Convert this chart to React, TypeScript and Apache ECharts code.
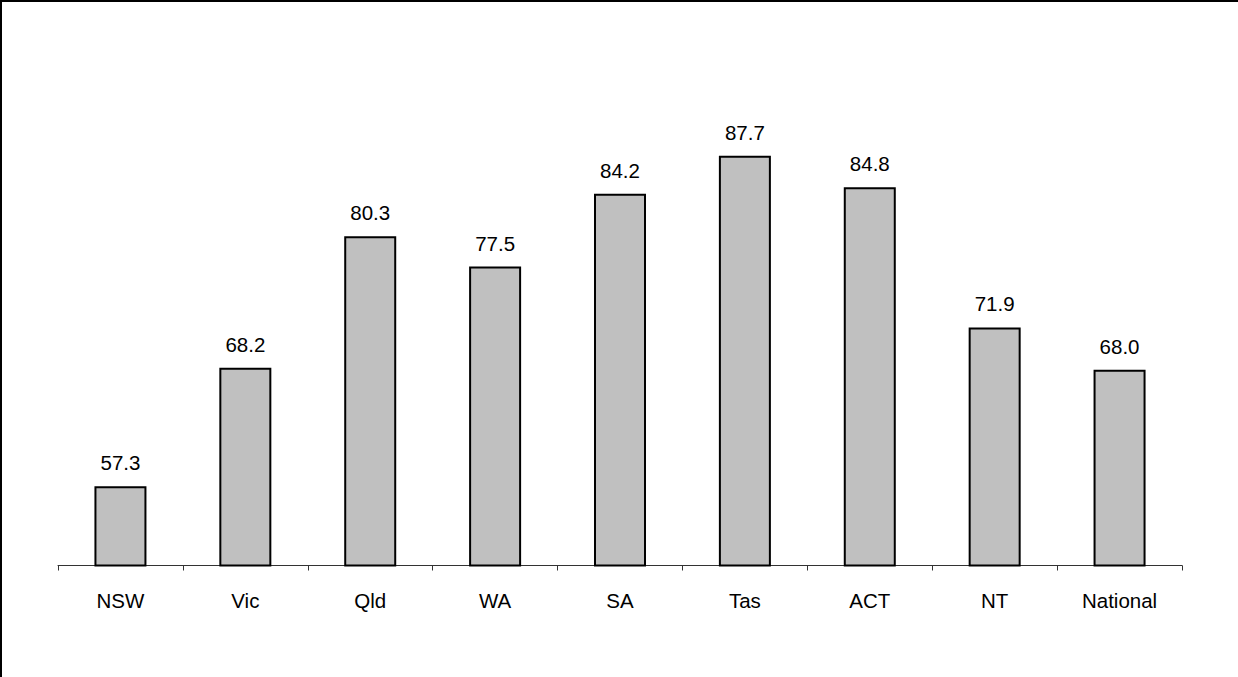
import React, { useEffect, useRef } from "react";
import * as echarts from "echarts";

const categories = ["NSW", "Vic", "Qld", "WA", "SA", "Tas", "ACT", "NT", "National"];
const values = [57.3, 68.2, 80.3, 77.5, 84.2, 87.7, 84.8, 71.9, 68.0];

const FONT = "'Liberation Sans', Arial, sans-serif";

export default function App() {
  const ref = useRef<HTMLDivElement>(null);

  useEffect(() => {
    if (!ref.current) return;
    const chart = echarts.init(ref.current, undefined, { renderer: "svg" });
    chart.setOption({
      animation: false,
      backgroundColor: "#ffffff",
      grid: { left: 58, right: 56, top: 22, bottom: 111.5 },
      xAxis: {
        type: "category",
        data: categories,
        axisLine: { show: true, lineStyle: { color: "#333333", width: 1 } },
        axisTick: { show: true, length: 5, lineStyle: { color: "#333333", width: 1 } },
        axisLabel: { color: "#000000", fontSize: 20.5, fontFamily: FONT, margin: 24 },
      },
      yAxis: {
        type: "value",
        min: 50,
        max: 100,
        show: false,
        splitLine: { show: false },
      },
      series: [
        {
          type: "bar",
          data: values,
          barWidth: 52,
          itemStyle: { color: "#c0c0c0", borderColor: "#000000", borderWidth: 2 },
          label: {
            show: true,
            position: "top",
            distance: 13,
            color: "#000000",
            fontSize: 20.5,
            fontFamily: FONT,
            formatter: (p: any) => Number(p.value).toFixed(1),
          },
        },
      ],
      graphic: [
        { type: "line", shape: { x1: 0, y1: 1, x2: 1238, y2: 1 }, style: { stroke: "#000000", lineWidth: 2 } },
        { type: "line", shape: { x1: 1, y1: 0, x2: 1, y2: 677 }, style: { stroke: "#000000", lineWidth: 2 } },
      ],
    });
    return () => chart.dispose();
  }, []);

  return (
    <div
      ref={ref}
      style={{ position: "fixed", left: 0, top: 0, width: 1238, height: 677 }}
    />
  );
}
